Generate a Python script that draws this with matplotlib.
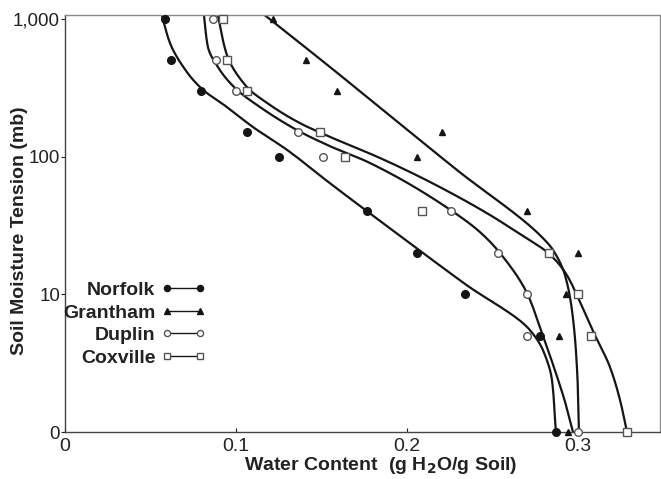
import numpy as np
import matplotlib.pyplot as plt
from matplotlib.lines import Line2D

plt.rcParams['font.family'] = ['Liberation Sans', 'DejaVu Sans']

# measured points (tension in mb, 0 is drawn at the bottom of the log axis)
tension = [1000, 500, 300, 150, 100, 40, 20, 10, 5, 0]
norfolk = [0.0585, 0.062, 0.0795, 0.1064, 0.125, 0.1766, 0.206, 0.234, 0.278, 0.287]
grantham = [0.1216, 0.141, 0.159, 0.2205, 0.206, 0.270, 0.300, 0.293, 0.289, 0.294]
duplin = [0.0865, 0.0883, 0.100, 0.136, 0.151, 0.226, 0.253, 0.270, 0.270, 0.300]
coxville = [0.0924, 0.0947, 0.1064, 0.149, 0.164, 0.209, 0.283, 0.300, 0.3076, 0.3287]

# fitted curves, knots
norfolk_fit_w = [0.0567, 0.0614, 0.0713, 0.0801, 0.0947, 0.1099, 0.1298, 0.155, 0.1977,
                 0.2339, 0.2719, 0.2795, 0.2848, 0.2871]
norfolk_fit_t = [1060, 668, 411, 310, 229, 164, 112, 64, 25.6, 11.9, 5.5, 3.94, 2.39, 0]

grantham_fit_w = [0.117, 0.155, 0.2292, 0.2795, 0.2854, 0.2924, 0.2965, 0.2988, 0.300, 0.3006]
grantham_fit_t = [1060, 447, 80, 25.6, 21, 13.8, 7.69, 3.94, 2.02, 0]

duplin_fit_w = [0.0813, 0.0836, 0.0906, 0.100, 0.114, 0.1368, 0.155, 0.1784, 0.2263, 0.2427,
                0.2544, 0.2702, 0.2789, 0.2865, 0.2930, 0.2971]
duplin_fit_t = [1060, 625, 425, 310, 229, 153, 119, 89.8, 40.3, 28.3,
                19.95, 10.2, 5.24, 2.82, 1.57, 0]

coxville_fit_w = [0.0895, 0.0947, 0.1064, 0.1199, 0.1374, 0.155, 0.1842, 0.2135, 0.2485,
                  0.2678, 0.2825, 0.2924, 0.3012, 0.3099, 0.3187, 0.3246, 0.3287]
coxville_fit_t = [1060, 547, 320, 237, 175, 139, 97.7, 65.4, 37.7,
                  26.5, 20, 14.5, 8.8, 5.06, 2.97, 1.71, 0]

soils = ['Norfolk', 'Grantham', 'Duplin', 'Coxville']


def to_axis(t):
    # tension 0 sits where 1 would be on the log axis
    return np.maximum(np.asarray(t, dtype=float), 1.0)


def pchip(xk, yk, xn):
    h = np.diff(xk)
    d = np.diff(yk) / h
    m = np.zeros(len(xk))
    m[0], m[-1] = d[0], d[-1]
    for k in range(1, len(xk) - 1):
        if d[k - 1] * d[k] > 0:
            w1 = 2 * h[k] + h[k - 1]
            w2 = h[k] + 2 * h[k - 1]
            m[k] = (w1 + w2) / (w1 / d[k - 1] + w2 / d[k])
    idx = np.clip(np.searchsorted(xk, xn) - 1, 0, len(h) - 1)
    s = (xn - xk[idx]) / h[idx]
    h00 = 2 * s ** 3 - 3 * s ** 2 + 1
    h10 = s ** 3 - 2 * s ** 2 + s
    h01 = -2 * s ** 3 + 3 * s ** 2
    h11 = s ** 3 - s ** 2
    return (h00 * yk[idx] + h10 * h[idx] * m[idx] + h01 * yk[idx + 1]
            + h11 * h[idx] * m[idx + 1])


def smooth(ws, ts):
    # water content as a smooth function of log tension
    lt = np.log10(to_axis(ts))[::-1]
    w = np.asarray(ws, dtype=float)[::-1]
    grid = np.linspace(lt[0], lt[-1], 300)
    return pchip(lt, w, grid), 10 ** grid


fig = plt.figure(figsize=(6.61, 4.79), dpi=100)
ax = fig.add_axes([0.0983, 0.0981, 0.9002, 0.8706])

line_col = '#151515'
for w, t in [(norfolk_fit_w, norfolk_fit_t), (grantham_fit_w, grantham_fit_t),
             (duplin_fit_w, duplin_fit_t), (coxville_fit_w, coxville_fit_t)]:
    cx, cy = smooth(w, t)
    ax.plot(cx, cy, color=line_col, lw=1.6, zorder=2)

styles = {
    'Norfolk': dict(marker='o', ms=5.5, mfc='#151515', mec='#151515'),
    'Grantham': dict(marker='^', ms=5, mfc='#151515', mec='#151515'),
    'Duplin': dict(marker='o', ms=5.5, mfc='white', mec='#555555', mew=1.0),
    'Coxville': dict(marker='s', ms=5.8, mfc='white', mec='#555555', mew=1.0),
}
for name, vals in zip(soils, [norfolk, grantham, duplin, coxville]):
    ax.plot(vals, to_axis(tension), ls='none', clip_on=False, zorder=3, **styles[name])

ax.set_yscale('log')
ax.set_xlim(0, 0.348)
ax.set_ylim(1, 1067)
ax.set_yticks([1, 10, 100, 1000])
ax.set_yticklabels(['0', '10', '100', '1,000'])
ax.yaxis.set_minor_locator(plt.NullLocator())
ax.set_xticks([0, 0.1, 0.2, 0.3])
ax.set_xticklabels(['0', '0.1', '0.2', '0.3'])

ax.tick_params(axis='y', direction='out', length=3, width=0.8, pad=0.5,
               labelsize=13.5, colors='#222222')
ax.tick_params(axis='x', direction='in', length=3, width=0.8, pad=4,
               labelsize=14, colors='#222222')

for side in ['left', 'bottom']:
    ax.spines[side].set_color('#444444')
    ax.spines[side].set_linewidth(1.0)
for side in ['top', 'right']:
    ax.spines[side].set_color('#8a8a8a')
    ax.spines[side].set_linewidth(1.0)

ax.set_xlabel('Water Content  (g H$_\\mathbf{2}$O/g Soil)', fontsize=14, fontweight='bold',
              color='#222222')
ax.xaxis.set_label_coords(0.531, -0.055)
ax.set_ylabel('Soil Moisture Tension (mb)', fontsize=14, fontweight='bold', color='#222222')
ax.yaxis.set_label_coords(-0.062, 0.482)

handles = []
for name in soils:
    st = dict(styles[name])
    st['ms'] = st['ms'] * 0.8
    handles.append(Line2D([], [], color=line_col, lw=1.0, **st))
leg = ax.legend(handles, soils, loc='center right', bbox_to_anchor=(0.237, 0.259),
                frameon=False, markerfirst=False, numpoints=2, handlelength=2.3,
                handletextpad=0.3, labelspacing=0.25, borderpad=0, borderaxespad=0,
                prop={'weight': 'bold', 'size': 14})
for txt in leg.get_texts():
    txt.set_color('#222222')

fig.savefig('out.png', dpi=100)
